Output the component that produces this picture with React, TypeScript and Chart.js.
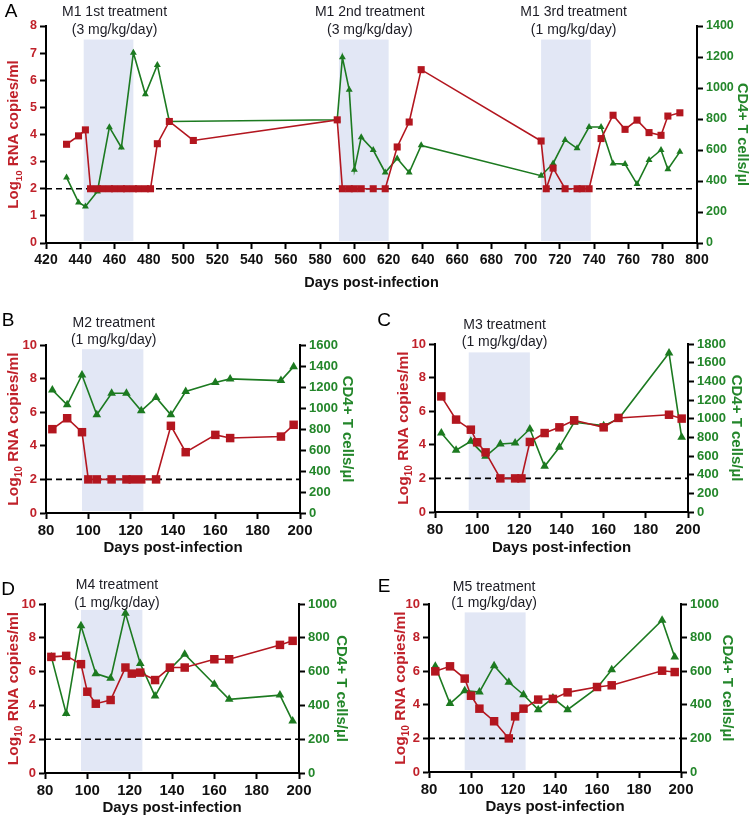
import React, { useEffect, useRef } from "react";
import { Chart, registerables } from "chart.js";
Chart.register(...registerables);

const FONT = "'Liberation Sans', Arial, Helvetica, sans-serif";
const RED = "#B3161F";
const GREEN = "#1C7A20";
const RED_TXT = "#C0212A";
const GREEN_TXT = "#23862A";
const SHADE = "#E2E7F5";

// ---------- Panel A (M1) ----------
const aRnaDays = [432, 439, 443, 446, 450, 453, 457, 460, 464, 467, 471, 474, 478, 481, 485, 492, 506, 590, 593, 597, 600, 604, 611, 618, 625, 632, 639, 709, 712, 716, 723, 730, 733, 737, 744, 751, 758, 765, 772, 779, 783, 790];
const aRna = [3.64, 3.95, 4.17, 2, 2, 2, 2, 2, 2, 2, 2, 2, 2, 2, 3.66, 4.48, 3.78, 4.54, 2, 2, 2, 2, 2, 2, 3.54, 4.46, 6.39, 3.76, 2, 2.76, 2, 2, 2, 2, 3.85, 4.71, 4.19, 4.53, 4.07, 3.97, 4.68, 4.8];
const aCd4Days = [432, 439, 443, 450, 457, 464, 471, 478, 485, 492, 590, 593, 597, 600, 604, 611, 618, 625, 632, 639, 709, 716, 723, 730, 737, 744, 751, 758, 765, 772, 779, 783, 790];
const aCd4 = [423, 262, 236, 333, 747, 616, 1228, 960, 1149, 784, 795, 1198, 988, 472, 683, 600, 455, 545, 455, 630, 434, 513, 665, 611, 748, 748, 513, 509, 380, 536, 600, 476, 588];
const aTreatStart = [442, 591, 709];
const aTreatEnd = [471, 620, 738];
const aTreatLabels = ["M1 1st treatment", "M1 2nd treatment", "M1 3rd treatment"];
const aDoseLabels = ["(3 mg/kg/day)", "(3 mg/kg/day)", "(1 mg/kg/day)"];
const aLabelDay = [460, 609, 728];

// ---------- Panels B-E (M2-M5) ----------
const rnaDays = [83, 90, 97, 100, 104, 111, 118, 121, 125, 132, 139, 146, 160, 167, 191, 197];
const cd4Days = [83, 90, 97, 104, 111, 118, 125, 132, 139, 146, 160, 167, 191, 197];

const bRna = [4.99, 5.64, 4.81, 2, 2, 2, 2, 2, 2, 2, 5.19, 3.62, 4.65, 4.46, 4.55, 5.25];
const bCd4 = [1172, 1030, 1315, 935, 1141, 1141, 973, 1100, 935, 1157, 1242, 1277, 1261, 1394];

const cRna = [6.88, 5.5, 4.9, 4.15, 3.55, 2, 2, 2, 4.17, 4.7, 5.04, 5.46, 5.04, 5.6, 5.79, 5.56];
const cCd4 = [846, 661, 757, 596, 729, 739, 889, 489, 693, 961, 925, 996, 1704, 800];

const dRna = [6.87, 6.93, 6.44, 4.81, 4.1, 4.32, 6.24, 5.88, 5.94, 5.5, 6.24, 6.24, 6.73, 6.73, 7.58, 7.82];
const dCd4 = [687, 352, 871, 588, 560, 945, 648, 455, 614, 703, 525, 436, 461, 307];

const eRna = [5.99, 6.29, 5.56, 4.54, 3.77, 3.02, 2, 3.31, 3.77, 4.31, 4.35, 4.74, 5.06, 5.16, 6.03, 5.95];
const eCd4 = [629, 407, 484, 476, 633, 534, 460, 371, 440, 371, 500, 609, 903, 685];

const detectionLimit = 2;
const xTitle = "Days post-infection";
const rightTitle = "CD4+ T cells/\u00b5l";

type PanelCfg = {
  letter: string;
  left: number; top: number; w: number; h: number;
  plot: { l: number; r: number; t: number; b: number };
  xMin: number; xMax: number; xStep: number;
  yMax: number; yStep: number; y2Max: number; y2Step: number;
  rnaDays: number[]; rna: number[]; cd4Days: number[]; cd4: number[];
  starts: number[]; ends: number[]; shadeTop: number;
  labelDay: number[]; l1: string[]; l2: string[]; annY: number[];
  letterPos: number[]; leftTitleX: number; rightTitleX: number; xTitleY: number;
  xTick: number; yTick: number; titleSize: number; xTitleSize: number;
  sq: number; tri: number;
};

const panels: PanelCfg[] = [
  {
    letter: "A", left: 0, top: 0, w: 750, h: 295, plot: { l: 46, r: 697, t: 26, b: 243 },
    xMin: 420, xMax: 800, xStep: 20, yMax: 8, yStep: 1, y2Max: 1400, y2Step: 200,
    rnaDays: aRnaDays, rna: aRna, cd4Days: aCd4Days, cd4: aCd4,
    starts: aTreatStart, ends: aTreatEnd, shadeTop: 7.5,
    labelDay: aLabelDay, l1: aTreatLabels, l2: aDoseLabels, annY: [12, 30],
    letterPos: [11, 12], leftTitleX: 13, rightTitleX: 742, xTitleY: 283,
    xTick: 14, yTick: 12.5, titleSize: 15, xTitleSize: 14.5, sq: 5, tri: 4,
  },
  {
    letter: "B", left: 0, top: 300, w: 375, h: 260, plot: { l: 46, r: 300, t: 45, b: 213 },
    xMin: 80, xMax: 200, xStep: 20, yMax: 10, yStep: 2, y2Max: 1600, y2Step: 200,
    rnaDays, rna: bRna, cd4Days, cd4: bCd4,
    starts: [97], ends: [126], shadeTop: 9.75,
    labelDay: [112], l1: ["M2 treatment"], l2: ["(1 mg/kg/day)"], annY: [23, 40],
    letterPos: [8, 21], leftTitleX: 13, rightTitleX: 347, xTitleY: 248,
    xTick: 15, yTick: 13, titleSize: 15.5, xTitleSize: 15, sq: 6, tri: 5,
  },
  {
    letter: "C", left: 375, top: 300, w: 375, h: 260, plot: { l: 60, r: 313, t: 44, b: 212 },
    xMin: 80, xMax: 200, xStep: 20, yMax: 10, yStep: 2, y2Max: 1800, y2Step: 200,
    rnaDays, rna: cRna, cd4Days, cd4: cCd4,
    starts: [96], ends: [125], shadeTop: 9.5,
    labelDay: [113], l1: ["M3 treatment"], l2: ["(1 mg/kg/day)"], annY: [25, 42],
    letterPos: [9, 21], leftTitleX: 28, rightTitleX: 361, xTitleY: 248,
    xTick: 15, yTick: 13, titleSize: 15.5, xTitleSize: 15, sq: 6, tri: 5,
  },
  {
    letter: "D", left: 0, top: 560, w: 375, h: 258, plot: { l: 45, r: 299, t: 44, b: 213 },
    xMin: 80, xMax: 200, xStep: 20, yMax: 10, yStep: 2, y2Max: 1000, y2Step: 200,
    rnaDays, rna: dRna, cd4Days, cd4: dCd4,
    starts: [97], ends: [126], shadeTop: 9.65,
    labelDay: [114], l1: ["M4 treatment"], l2: ["(1 mg/kg/day)"], annY: [25, 43],
    letterPos: [8, 30], leftTitleX: 13, rightTitleX: 341, xTitleY: 248,
    xTick: 15, yTick: 13, titleSize: 15.5, xTitleSize: 15, sq: 6, tri: 5,
  },
  {
    letter: "E", left: 375, top: 560, w: 375, h: 258, plot: { l: 54, r: 306, t: 44, b: 212 },
    xMin: 80, xMax: 200, xStep: 20, yMax: 10, yStep: 2, y2Max: 1000, y2Step: 200,
    rnaDays, rna: eRna, cd4Days, cd4: eCd4,
    starts: [97], ends: [126], shadeTop: 9.5,
    labelDay: [111], l1: ["M5 treatment"], l2: ["(1 mg/kg/day)"], annY: [27, 43],
    letterPos: [9, 27], leftTitleX: 25, rightTitleX: 352, xTitleY: 247,
    xTick: 15, yTick: 13, titleSize: 15.5, xTitleSize: 15, sq: 6, tri: 5,
  },
];

function makeOverlay(cfg: PanelCfg) {
  return {
    id: "overlay" + cfg.letter,
    beforeDraw(chart: any) {
      const { ctx, chartArea, scales } = chart;
      const x = scales.x;
      const y = scales.y;
      ctx.save();
      ctx.fillStyle = SHADE;
      const yt = y.getPixelForValue(cfg.shadeTop);
      cfg.starts.forEach((s, i) => {
        const x0 = x.getPixelForValue(s);
        const x1 = x.getPixelForValue(cfg.ends[i]);
        ctx.fillRect(x0, yt, x1 - x0, chartArea.bottom - 2 - yt);
      });
      ctx.restore();
    },
    afterDraw(chart: any) {
      const { ctx, chartArea, scales } = chart;
      const x = scales.x;
      ctx.save();
      // treatment annotations
      ctx.fillStyle = "#1c1c24";
      ctx.font = `14px ${FONT}`;
      ctx.textAlign = "center";
      ctx.textBaseline = "middle";
      cfg.labelDay.forEach((d, i) => {
        const px = x.getPixelForValue(d);
        ctx.fillText(cfg.l1[i], px, cfg.annY[0]);
        ctx.fillText(cfg.l2[i], px, cfg.annY[1]);
      });
      // panel letter
      ctx.fillStyle = "#000";
      ctx.font = `19px ${FONT}`;
      ctx.fillText(cfg.letter, cfg.letterPos[0], cfg.letterPos[1]);
      // x title
      ctx.font = `bold ${cfg.xTitleSize}px ${FONT}`;
      ctx.fillStyle = "#111";
      ctx.fillText(xTitle, (chartArea.left + chartArea.right) / 2, cfg.xTitleY);
      const cy = (chartArea.top + chartArea.bottom) / 2;
      // left title with subscript
      const s = cfg.titleSize;
      const big = `bold ${s}px ${FONT}`;
      const small = `bold ${s * 0.65}px ${FONT}`;
      ctx.font = big;
      const w1 = ctx.measureText("Log").width;
      const w3 = ctx.measureText(" RNA copies/ml").width;
      ctx.font = small;
      const w2 = ctx.measureText("10").width;
      const total = w1 + w2 + w3;
      ctx.save();
      ctx.translate(cfg.leftTitleX, cy);
      ctx.rotate(-Math.PI / 2);
      ctx.fillStyle = RED_TXT;
      ctx.textAlign = "left";
      ctx.textBaseline = "alphabetic";
      const base = s * 0.35;
      ctx.font = big;
      ctx.fillText("Log", -total / 2, base);
      ctx.font = small;
      ctx.fillText("10", -total / 2 + w1, base + s * 0.22);
      ctx.font = big;
      ctx.fillText(" RNA copies/ml", -total / 2 + w1 + w2, base);
      ctx.restore();
      // right title
      ctx.save();
      ctx.translate(cfg.rightTitleX, cy);
      ctx.rotate(Math.PI / 2);
      ctx.fillStyle = GREEN_TXT;
      ctx.font = `bold ${cfg.titleSize - 0.5}px ${FONT}`;
      ctx.textAlign = "center";
      ctx.textBaseline = "middle";
      ctx.fillText(rightTitle, 0, 0);
      ctx.restore();
      ctx.restore();
    },
  };
}

const plain = (v: any) => String(v);

function buildChart(canvas: HTMLCanvasElement, cfg: PanelCfg) {
  const gridOpts = {
    display: true,
    drawOnChartArea: false,
    drawTicks: true,
    tickLength: 6,
    tickWidth: 2,
    tickColor: "#000",
  };
  const border = { display: true, color: "#000", width: 2 };
  const { l, r, t, b } = cfg.plot;
  return new Chart(canvas, {
    type: "line",
    data: {
      datasets: [
        {
          label: "RNA",
          data: cfg.rnaDays.map((d, i) => ({ x: d, y: cfg.rna[i] })),
          yAxisID: "y",
          borderColor: RED,
          backgroundColor: RED,
          borderWidth: 1.6,
          pointStyle: "rect",
          pointRadius: cfg.sq,
          pointBorderWidth: 0,
          tension: 0,
          order: 1,
        },
        {
          label: "CD4",
          data: cfg.cd4Days.map((d, i) => ({ x: d, y: cfg.cd4[i] })),
          yAxisID: "y2",
          borderColor: GREEN,
          backgroundColor: GREEN,
          borderWidth: 1.6,
          pointStyle: "triangle",
          pointRadius: cfg.tri,
          pointBorderWidth: 0,
          tension: 0,
          order: 2,
        },
        {
          label: "limit",
          data: [
            { x: cfg.xMin, y: detectionLimit },
            { x: cfg.xMax, y: detectionLimit },
          ],
          yAxisID: "y",
          borderColor: "#000",
          borderWidth: 1.6,
          borderDash: [6, 4],
          pointRadius: 0,
          order: 3,
        },
      ],
    },
    options: {
      animation: false,
      responsive: false,
      devicePixelRatio: 1,
      layout: { padding: { top: t, left: 0, right: 0, bottom: 0 } },
      plugins: { legend: { display: false }, tooltip: { enabled: false } },
      scales: {
        x: {
          type: "linear",
          min: cfg.xMin,
          max: cfg.xMax,
          grid: gridOpts,
          border,
          ticks: {
            stepSize: cfg.xStep,
            autoSkip: false,
            maxRotation: 0,
            padding: 3,
            color: "#111",
            callback: plain,
            font: { family: FONT, size: cfg.xTick, weight: "bold" },
          },
          afterFit: (s: any) => {
            s.height = cfg.h - b;
            s.paddingLeft = 0;
            s.paddingRight = 0;
          },
        },
        y: {
          type: "linear",
          position: "left",
          min: 0,
          max: cfg.yMax,
          grid: gridOpts,
          border,
          ticks: {
            stepSize: cfg.yStep,
            padding: 3,
            color: RED_TXT,
            callback: plain,
            font: { family: FONT, size: cfg.yTick, weight: "bold" },
          },
          afterFit: (s: any) => {
            s.width = l;
            s.paddingTop = 0;
            s.paddingBottom = 0;
          },
        },
        y2: {
          type: "linear",
          position: "right",
          min: 0,
          max: cfg.y2Max,
          grid: gridOpts,
          border,
          ticks: {
            stepSize: cfg.y2Step,
            padding: 3,
            color: GREEN_TXT,
            callback: plain,
            font: { family: FONT, size: cfg.yTick, weight: "bold" },
          },
          afterFit: (s: any) => {
            s.width = cfg.w - r;
            s.paddingTop = 0;
            s.paddingBottom = 0;
          },
        },
      },
    } as any,
    plugins: [makeOverlay(cfg)],
  });
}

function Panel({ cfg }: { cfg: PanelCfg }) {
  const ref = useRef<HTMLCanvasElement>(null);
  useEffect(() => {
    const chart = buildChart(ref.current as HTMLCanvasElement, cfg);
    return () => chart.destroy();
  }, [cfg]);
  return (
    <canvas
      ref={ref}
      width={cfg.w}
      height={cfg.h}
      style={{ position: "absolute", left: cfg.left, top: cfg.top, width: cfg.w, height: cfg.h }}
    />
  );
}

export default function App() {
  return (
    <div style={{ position: "absolute", left: 0, top: 0, width: 750, height: 818, background: "#fff" }}>
      {panels.map((p) => (
        <Panel key={p.letter} cfg={p} />
      ))}
    </div>
  );
}
